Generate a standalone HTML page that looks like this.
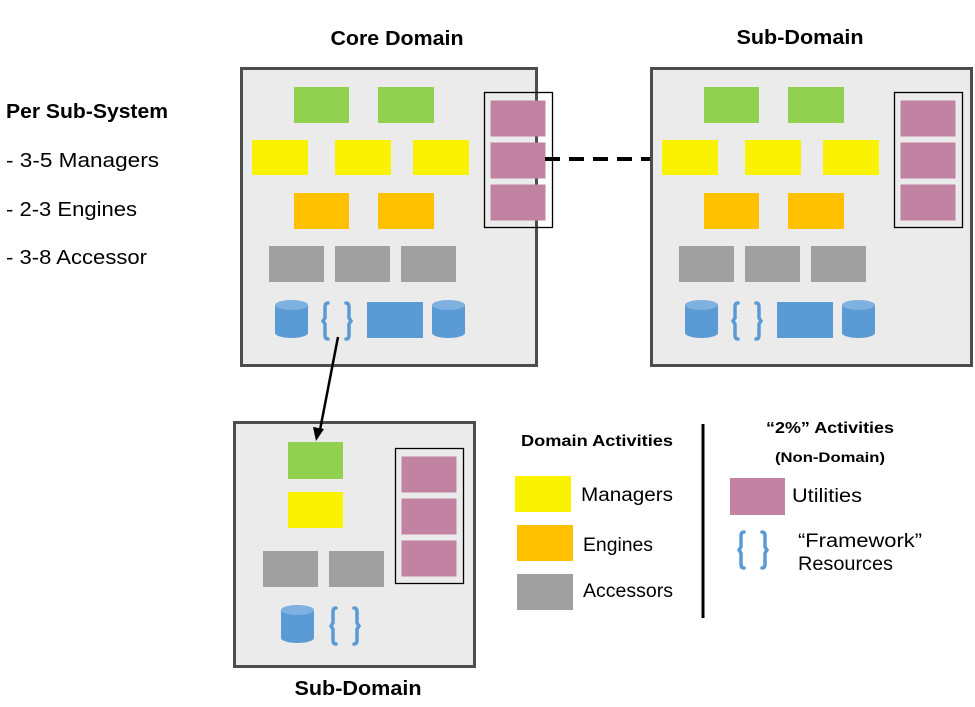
<!DOCTYPE html>
<html><head><meta charset="utf-8"><style>
html,body{margin:0;padding:0;background:#fff;width:975px;height:707px;overflow:hidden}
text{font-family:"Liberation Sans",sans-serif;fill:#000}
</style></head><body>
<svg width="975" height="707" viewBox="0 0 975 707" xmlns="http://www.w3.org/2000/svg">
<defs>
<g id="brace">
<path d="M5,0 Q2,0 2,4 V15 L0,18 L2,21 V32 Q2,36 5,36" fill="none" stroke="#5b9bd5" stroke-width="3.5" stroke-linecap="round"/>
<path d="M23,0 Q26,0 26,4 V15 L28,18 L26,21 V32 Q26,36 23,36" fill="none" stroke="#5b9bd5" stroke-width="3.5" stroke-linecap="round"/>
</g>
<g id="cyl">
<rect x="0" y="5" width="33" height="28" fill="#5b9bd5"/>
<ellipse cx="16.5" cy="33" rx="16.5" ry="5" fill="#5b9bd5"/>
<ellipse cx="16.5" cy="5" rx="16.5" ry="5" fill="#7eb0e0"/>
</g>
<g id="util">
<rect x="0" y="0" width="68" height="135" fill="none" stroke="#000" stroke-width="1.3"/>
<rect x="6" y="8" width="55" height="36" fill="#c283a2"/>
<rect x="6" y="50" width="55" height="36" fill="#c283a2"/>
<rect x="6" y="92" width="55" height="36" fill="#c283a2"/>
</g>
<g id="content">
<rect x="294" y="87" width="55" height="36" fill="#92d050"/>
<rect x="378" y="87" width="56" height="36" fill="#92d050"/>
<rect x="252" y="140" width="56" height="35" fill="#f9f200"/>
<rect x="335" y="140" width="56" height="35" fill="#f9f200"/>
<rect x="413" y="140" width="56" height="35" fill="#f9f200"/>
<rect x="294" y="193" width="55" height="36" fill="#ffc000"/>
<rect x="378" y="193" width="56" height="36" fill="#ffc000"/>
<rect x="269" y="246" width="55" height="36" fill="#a0a0a0"/>
<rect x="335" y="246" width="55" height="36" fill="#a0a0a0"/>
<rect x="401" y="246" width="55" height="36" fill="#a0a0a0"/>
<use href="#cyl" x="275" y="300"/>
<use href="#brace" x="323" y="303"/>
<rect x="367" y="302" width="56" height="36" fill="#5b9bd5"/>
<use href="#cyl" x="432" y="300"/>
<use href="#util" x="484.5" y="92.5"/>
</g>
</defs>

<rect x="241.5" y="68.5" width="295" height="297" fill="#ebebeb" stroke="#4d4d4d" stroke-width="3"/>
<rect x="651.5" y="68.5" width="320" height="297" fill="#ebebeb" stroke="#4d4d4d" stroke-width="3"/>
<use href="#content"/>
<use href="#content" x="410"/>

<!-- dashed connector -->
<line x1="545" y1="159" x2="650" y2="159" stroke="#000" stroke-width="4" stroke-dasharray="15,9"/>

<!-- bottom sub-domain -->
<rect x="234.5" y="422.5" width="240" height="244" fill="#ebebeb" stroke="#4d4d4d" stroke-width="3"/>
<rect x="288" y="442" width="55" height="37" fill="#92d050"/>
<rect x="288" y="492" width="55" height="36" fill="#f9f200"/>
<rect x="263" y="551" width="55" height="36" fill="#a0a0a0"/>
<rect x="329" y="551" width="55" height="36" fill="#a0a0a0"/>
<use href="#util" x="395.5" y="448.5"/>
<use href="#cyl" x="281" y="605"/>
<use href="#brace" x="331" y="608"/>

<!-- arrow -->
<line x1="338" y1="337" x2="320" y2="430" stroke="#000" stroke-width="2.5"/>
<polygon points="316,441 313,427 324,429" fill="#000"/>

<!-- titles -->
<text x="397" y="45" font-size="20" font-weight="bold" text-anchor="middle" textLength="133" lengthAdjust="spacingAndGlyphs">Core Domain</text>
<text x="800" y="44" font-size="20" font-weight="bold" text-anchor="middle" textLength="127" lengthAdjust="spacingAndGlyphs">Sub-Domain</text>
<text x="358" y="695" font-size="20" font-weight="bold" text-anchor="middle" textLength="127" lengthAdjust="spacingAndGlyphs">Sub-Domain</text>

<!-- left text -->
<text x="6" y="118" font-size="20" font-weight="bold" textLength="162" lengthAdjust="spacingAndGlyphs">Per Sub-System</text>
<text x="6" y="167" font-size="20" textLength="153" lengthAdjust="spacingAndGlyphs">- 3-5 Managers</text>
<text x="6" y="216" font-size="20" textLength="131" lengthAdjust="spacingAndGlyphs">- 2-3 Engines</text>
<text x="6" y="264" font-size="20" textLength="141" lengthAdjust="spacingAndGlyphs">- 3-8 Accessor</text>

<!-- legend -->
<text x="521" y="446" font-size="16" font-weight="bold" textLength="152" lengthAdjust="spacingAndGlyphs">Domain Activities</text>
<rect x="515" y="476" width="56" height="36" fill="#f9f200"/>
<text x="581" y="501" font-size="19" textLength="92" lengthAdjust="spacingAndGlyphs">Managers</text>
<rect x="517" y="525" width="56" height="36" fill="#ffc000"/>
<text x="583" y="551" font-size="19" textLength="70" lengthAdjust="spacingAndGlyphs">Engines</text>
<rect x="517" y="574" width="56" height="36" fill="#a0a0a0"/>
<text x="583" y="597" font-size="19" textLength="90" lengthAdjust="spacingAndGlyphs">Accessors</text>

<line x1="703" y1="424" x2="703" y2="618" stroke="#000" stroke-width="3"/>

<text x="766" y="433" font-size="16" font-weight="bold" textLength="128" lengthAdjust="spacingAndGlyphs">“2%” Activities</text>
<text x="775" y="462" font-size="14" font-weight="bold" textLength="110" lengthAdjust="spacingAndGlyphs">(Non-Domain)</text>
<rect x="730" y="478" width="55" height="37" fill="#c283a2"/>
<text x="792" y="502" font-size="19" textLength="70" lengthAdjust="spacingAndGlyphs">Utilities</text>
<use href="#brace" x="739" y="532"/>
<text x="798" y="547" font-size="19" textLength="124" lengthAdjust="spacingAndGlyphs">“Framework”</text>
<text x="798" y="570" font-size="19" textLength="95" lengthAdjust="spacingAndGlyphs">Resources</text>
</svg>
</body></html>
